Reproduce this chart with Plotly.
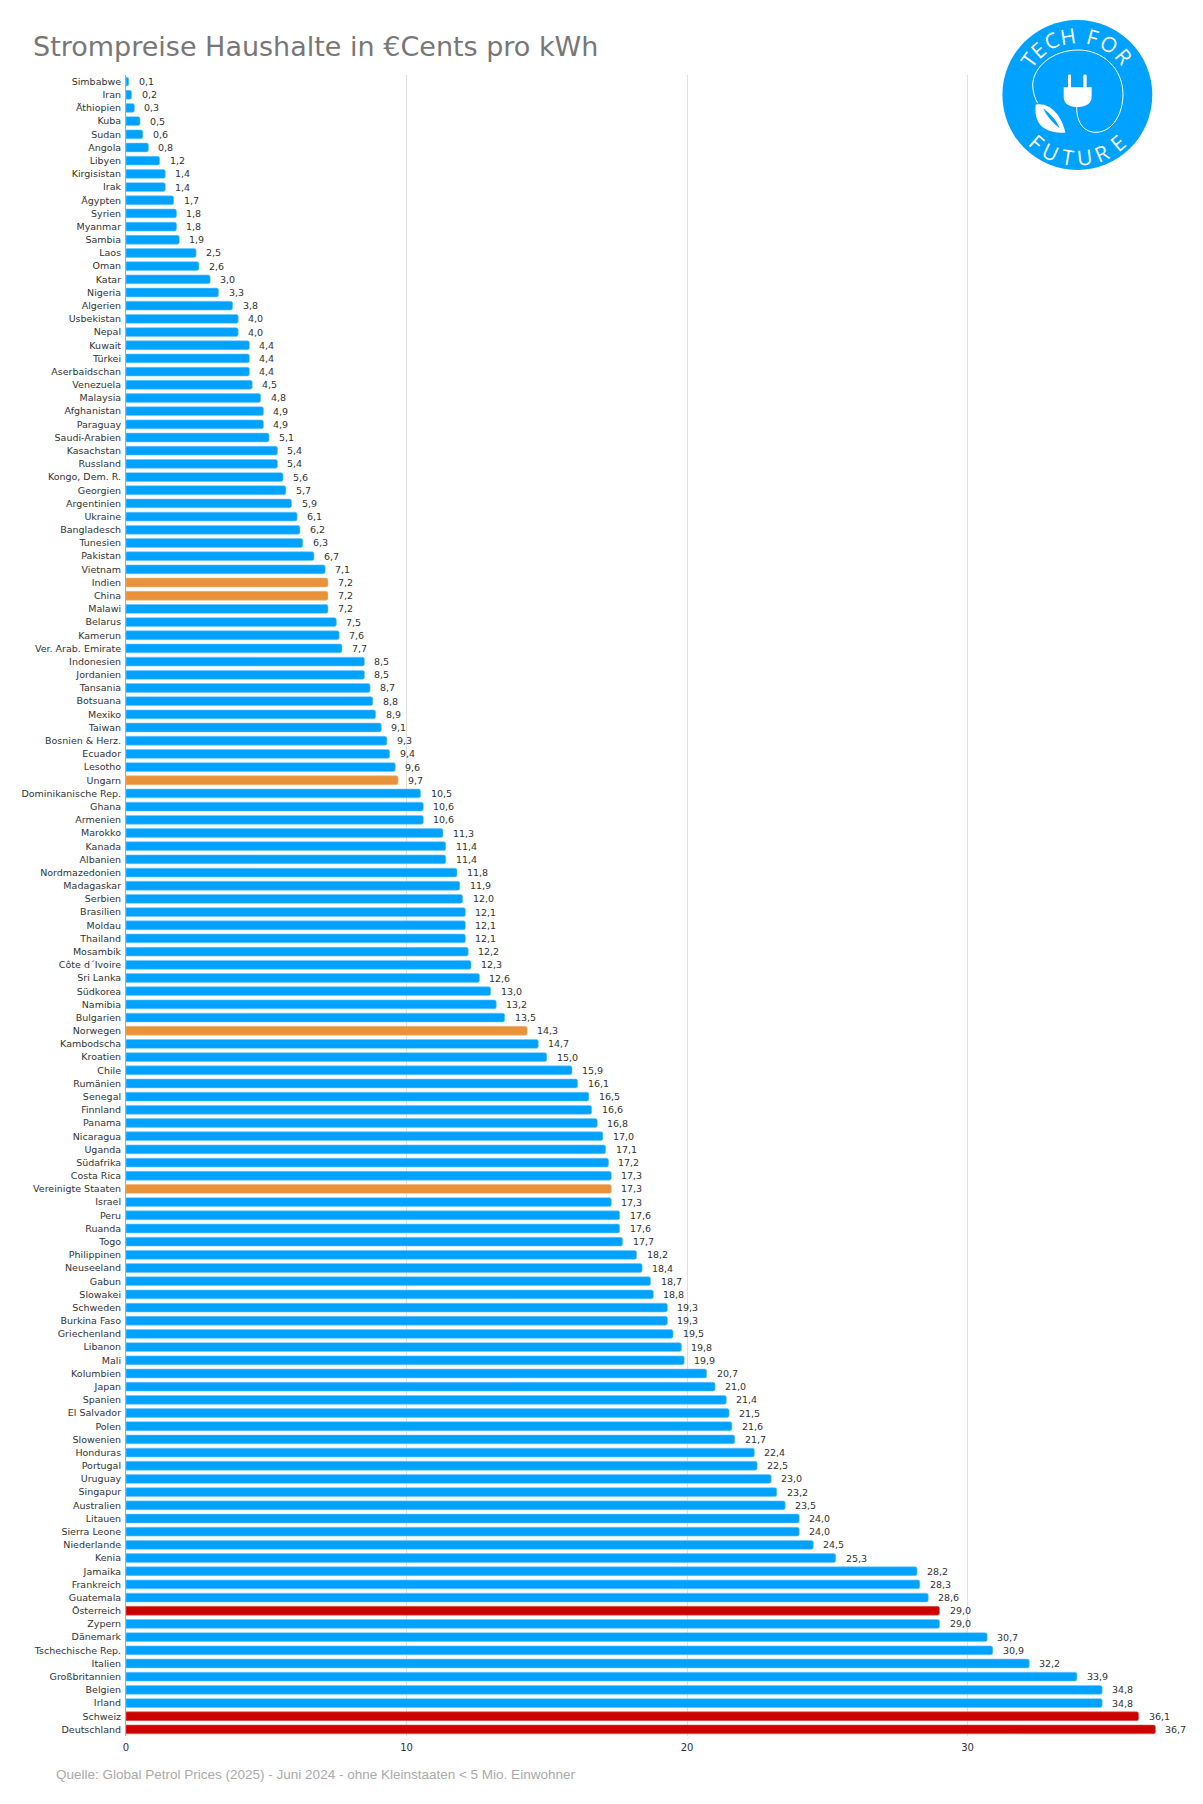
import math
import plotly.graph_objects as go

W, H = 1203, 1804
PLOT_L, PLOT_R, PLOT_T, PLOT_B = 125.7, 1192.4, 75.0, 1736.4

countries = ["Simbabwe","Iran","Äthiopien","Kuba","Sudan","Angola","Libyen","Kirgisistan","Irak","Ägypten",
"Syrien","Myanmar","Sambia","Laos","Oman","Katar","Nigeria","Algerien","Usbekistan","Nepal",
"Kuwait","Türkei","Aserbaidschan","Venezuela","Malaysia","Afghanistan","Paraguay","Saudi-Arabien","Kasachstan","Russland",
"Kongo, Dem. R.","Georgien","Argentinien","Ukraine","Bangladesch","Tunesien","Pakistan","Vietnam","Indien","China",
"Malawi","Belarus","Kamerun","Ver. Arab. Emirate","Indonesien","Jordanien","Tansania","Botsuana","Mexiko","Taiwan",
"Bosnien & Herz.","Ecuador","Lesotho","Ungarn","Dominikanische Rep.","Ghana","Armenien","Marokko","Kanada","Albanien",
"Nordmazedonien","Madagaskar","Serbien","Brasilien","Moldau","Thailand","Mosambik","Côte d´Ivoire","Sri Lanka","Südkorea",
"Namibia","Bulgarien","Norwegen","Kambodscha","Kroatien","Chile","Rumänien","Senegal","Finnland","Panama",
"Nicaragua","Uganda","Südafrika","Costa Rica","Vereinigte Staaten","Israel","Peru","Ruanda","Togo","Philippinen",
"Neuseeland","Gabun","Slowakei","Schweden","Burkina Faso","Griechenland","Libanon","Mali","Kolumbien","Japan",
"Spanien","El Salvador","Polen","Slowenien","Honduras","Portugal","Uruguay","Singapur","Australien","Litauen",
"Sierra Leone","Niederlande","Kenia","Jamaika","Frankreich","Guatemala","Österreich","Zypern","Dänemark","Tschechische Rep.",
"Italien","Großbritannien","Belgien","Irland","Schweiz","Deutschland"]

prices = [0.1,0.2,0.3,0.5,0.6,0.8,1.2,1.4,1.4,1.7,
1.8,1.8,1.9,2.5,2.6,3.0,3.3,3.8,4.0,4.0,
4.4,4.4,4.4,4.5,4.8,4.9,4.9,5.1,5.4,5.4,
5.6,5.7,5.9,6.1,6.2,6.3,6.7,7.1,7.2,7.2,
7.2,7.5,7.6,7.7,8.5,8.5,8.7,8.8,8.9,9.1,
9.3,9.4,9.6,9.7,10.5,10.6,10.6,11.3,11.4,11.4,
11.8,11.9,12.0,12.1,12.1,12.1,12.2,12.3,12.6,13.0,
13.2,13.5,14.3,14.7,15.0,15.9,16.1,16.5,16.6,16.8,
17.0,17.1,17.2,17.3,17.3,17.3,17.6,17.6,17.7,18.2,
18.4,18.7,18.8,19.3,19.3,19.5,19.8,19.9,20.7,21.0,
21.4,21.5,21.6,21.7,22.4,22.5,23.0,23.2,23.5,24.0,
24.0,24.5,25.3,28.2,28.3,28.6,29.0,29.0,30.7,30.9,
32.2,33.9,34.8,34.8,36.1,36.7]

orange_countries = ["Indien","China","Ungarn","Norwegen","Vereinigte Staaten"]
red_countries = ["Österreich","Schweiz","Deutschland"]
x_ticks = [0, 10, 20, 30]

BLUE, ORANGE, RED = "#00A2FF", "#E8923A", "#CC0000"
EDGE = {BLUE: "#6CC8FF", ORANGE: "#F0B57C", RED: "#DD6666"}
colors = [ORANGE if c in orange_countries else RED if c in red_countries else BLUE for c in countries]

fig = go.Figure(go.Bar(
    y=countries, x=prices, orientation="h",
    marker=dict(color=colors, line=dict(color=[EDGE[c] for c in colors], width=0.6)),
    hoverinfo="skip", cliponaxis=False,
))

annotations = []
for c, v in zip(countries, prices):
    annotations.append(dict(x=v, y=c, xref="x", yref="y", xanchor="left", yanchor="middle",
        xshift=8, showarrow=False, text=f"{v:.1f}".replace(".", ","),
        font=dict(family="DejaVu Sans", size=9.5, color="#333333")))

def px(x): return (x - PLOT_L) / (PLOT_R - PLOT_L)
def py(y): return (PLOT_B - y) / (PLOT_B - PLOT_T)
def lx(z): return px(950 + z / 3)
def ly(z): return py(z / 3)

def path(cmds):
    out = []
    for c in cmds:
        out.append(c[0] + " " + " ".join(f"{lx(c[i]):.5f},{ly(c[i+1]):.5f}" for i in range(1, len(c), 2)))
    return " ".join(out)

shapes = [dict(type="circle", xref="paper", yref="paper",
    x0=lx(158), x1=lx(608), y0=ly(60), y1=ly(510),
    fillcolor=BLUE, line=dict(width=0), layer="above")]
white = dict(xref="paper", yref="paper", type="path", layer="above", line=dict(width=0), fillcolor="#FFFFFF")
shapes += [
  # plug with prongs
  dict(white, path=path([("M",355,262),("L",355,228),("C",355,222,364,222,364,228),("L",364,262),("L",401,262),("L",401,228),
      ("C",401,222,411,222,411,228),("L",411,262),("L",426,262),("L",426,290),("C",426,312,405,320,388,321),
      ("L",378,321),("C",360,320,342,312,342,290),("L",342,262),("Z",)])),
  # leaf
  dict(white, path=path([("M",258,314),("C",300,306,335,345,347,398),("C",300,400,250,385,258,314),("Z",)])),
  dict(type="path", xref="paper", yref="paper", layer="above", line=dict(width=0), fillcolor=BLUE,
      path=path([("M",280,325),("C",300,340,320,360,330,385),("C",310,370,292,350,280,325),("Z",)])),
  # cable
  dict(type="path", xref="paper", yref="paper", layer="above", fillcolor="rgba(0,0,0,0)", line=dict(color="#FFFFFF", width=1),
      path=path([("M",381,320),("C",380,370,405,398,440,397),("C",490,395,521,340,520,280),("C",518,205,460,150,385,150),
      ("C",310,150,250,200,249,255),("C",249,275,255,295,264,310)])),
]

cx, cy = 383, 285
top_letters = list("TECHFOR")
top_angles = [-54, -41, -26, -9, 15, 32, 50]
bot_letters = list("FUTURE")
bot_angles = [-41, -25, -9, 7, 23, 40]
logo_font = dict(family="Open Sans", size=21, color="#FFFFFF")
for ch, a in zip(top_letters, top_angles):
    r = 180; t = math.radians(a)
    annotations.append(dict(x=lx(cx + r * math.sin(t)), y=ly(cy - r * math.cos(t)), xref="paper", yref="paper",
        text=ch, showarrow=False, textangle=a, xanchor="center", yanchor="middle", font=logo_font))
for ch, a in zip(bot_letters, bot_angles):
    r = 188; t = math.radians(a)
    annotations.append(dict(x=lx(cx + r * math.sin(t)), y=ly(cy + r * math.cos(t)), xref="paper", yref="paper",
        text=ch, showarrow=False, textangle=-a, xanchor="center", yanchor="middle", font=logo_font))

annotations.append(dict(x=px(54), y=py(1775), xref="paper", yref="paper", xanchor="left", yanchor="middle",
    showarrow=False, text="Quelle: Global Petrol Prices (2025) - Juni 2024 - ohne Kleinstaaten < 5 Mio. Einwohner",
    font=dict(family="Liberation Sans", size=13.5, color="#AAAAAA")))

fig.update_layout(
    width=W, height=H, autosize=False,
    margin=dict(l=PLOT_L, r=W - PLOT_R, t=PLOT_T, b=H - PLOT_B, autoexpand=False),
    paper_bgcolor="#FFFFFF", plot_bgcolor="#FFFFFF",
    bargap=0.33, barcornerradius=2, showlegend=False,
    title=dict(text="Strompreise Haushalte in €Cents pro kWh", x=33 / W, xanchor="left",
               y=1 - 47 / H, yanchor="middle", xref="container", yref="container",
               font=dict(family="DejaVu Sans", size=27, color="#777777")),
    annotations=annotations, shapes=shapes,
    xaxis=dict(range=[0, (PLOT_R - PLOT_L) / 28.07], tickvals=x_ticks, ticktext=[str(t) for t in x_ticks],
               showgrid=True, gridcolor="#E0E0E0", gridwidth=1, zeroline=False, showline=False,
               ticks="", ticklabelstandoff=4, tickfont=dict(family="DejaVu Sans", size=10, color="#333333")),
    yaxis=dict(type="category", categoryorder="array", categoryarray=countries,
               range=[len(countries) - 0.5, -0.5], tickmode="array", tickvals=countries,
               showgrid=False, zeroline=False, showline=True, linecolor="#AAAAAA", linewidth=1,
               ticks="", ticklabelstandoff=2, tickfont=dict(family="DejaVu Sans", size=9.5, color="#333333")),
)

fig.write_html("out.html", post_script="document.body.style.margin='0';", config={"displayModeBar": False})
